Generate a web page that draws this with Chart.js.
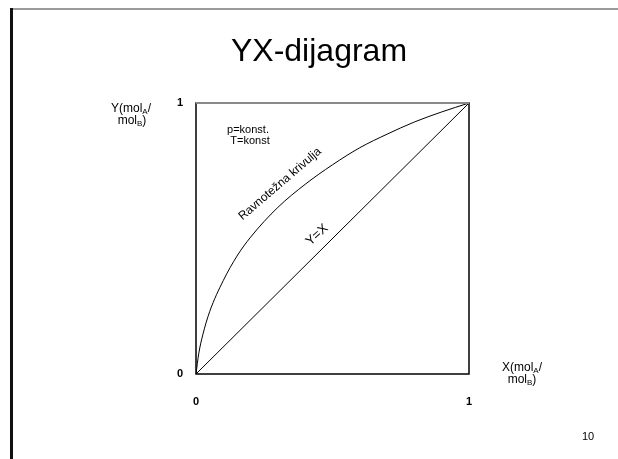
<!DOCTYPE html>
<html>
<head>
<meta charset="utf-8">
<title>YX-dijagram</title>
<script src="https://cdn.jsdelivr.net/npm/chart.js@4"></script>
<style>
  html, body { margin: 0; padding: 0; background: #fff; }
  #wrap { width: 618px; height: 459px; }
</style>
</head>
<body>
<div id="wrap"><canvas id="yx"></canvas></div>
<script>
// equilibrium curve (mole ratios, liquid X vs vapour Y)
const curveX = [0, 0.010, 0.025, 0.050, 0.100, 0.150, 0.200, 0.300, 0.400, 0.500, 0.600, 0.700, 0.800, 0.900, 1];
const curveY = [0, 0.075, 0.145, 0.230, 0.345, 0.435, 0.505, 0.615, 0.700, 0.772, 0.835, 0.885, 0.930, 0.967, 1];
// Y = X diagonal
const diagX = [0, 1];
const diagY = [0, 1];
const xTicks = [0, 1];
const yTicks = [0, 1];

const FONT = '"Liberation Sans", Arial, Helvetica, sans-serif';

function pts(xs, ys) {
  return xs.map((x, i) => ({ x: x, y: ys[i] }));
}

// draw a run of text pieces (normal + subscript) centred on cx
function drawRun(c, parts, cx, y) {
  let w = 0;
  parts.forEach(p => { c.font = p[1] + 'px ' + FONT; w += c.measureText(p[0]).width; });
  let x = cx - w / 2;
  parts.forEach(p => {
    c.font = p[1] + 'px ' + FONT;
    c.fillText(p[0], x, y + (p[2] || 0));
    x += c.measureText(p[0]).width;
  });
}

function drawRotated(c, text, size, cx, cy, deg) {
  c.save();
  c.translate(cx, cy);
  c.rotate(deg * Math.PI / 180);
  c.font = size + 'px ' + FONT;
  c.textAlign = 'center';
  c.textBaseline = 'middle';
  c.fillText(text, 0, 0);
  c.restore();
}

// slide frame, title, box and notes
const slideText = {
  id: 'slideText',
  beforeDraw(chart) {
    const c = chart.ctx;
    c.save();
    c.fillStyle = '#fff';
    c.fillRect(0, 0, chart.width, chart.height);
    c.fillStyle = '#9a9a9a';
    c.fillRect(10, 8, chart.width - 10, 2);
    c.fillStyle = '#111';
    c.fillRect(10, 8, 3, chart.height - 8);
    c.restore();
  },
  afterDraw(chart) {
    const c = chart.ctx, a = chart.chartArea;
    c.save();
    // plot box
    c.strokeStyle = '#000';
    c.lineWidth = 1.5;
    c.strokeRect(a.left, a.top, a.right - a.left, a.bottom - a.top);
    c.strokeStyle = '#8a8a8a';
    c.lineWidth = 2;
    c.beginPath();
    c.moveTo(a.left, a.top);
    c.lineTo(a.right, a.top);
    c.stroke();

    c.fillStyle = '#000';
    c.textBaseline = 'alphabetic';
    c.textAlign = 'left';

    // title
    drawRun(c, [['YX-dijagram', 32]], 319, 61);

    // axis names
    drawRun(c, [['Y(mol', 12], ['A', 8, 2], ['/', 12]], 131, 112);
    drawRun(c, [['mol', 12], ['B', 8, 2], [')', 12]], 132, 124);
    drawRun(c, [['X(mol', 12], ['A', 8, 2], ['/', 12]], 522, 371);
    drawRun(c, [['mol', 12], ['B', 8, 2], [')', 12]], 522, 383);

    // conditions
    drawRun(c, [['p=konst.', 11]], 248, 133);
    drawRun(c, [['T=konst', 11]], 250, 144);

    // curve labels
    drawRotated(c, 'Ravnotežna krivulja', 12, 280, 184, -40.6);
    drawRotated(c, 'Y=X', 13, 317, 235, -42);

    // page number
    drawRun(c, [['10', 11]], 588, 440);
    c.restore();
  }
};

new Chart(document.getElementById('yx'), {
  type: 'scatter',
  data: {
    datasets: [
      {
        label: 'Ravnotežna krivulja',
        data: pts(curveX, curveY),
        showLine: true,
        borderColor: '#000',
        borderWidth: 1,
        pointRadius: 0,
        cubicInterpolationMode: 'monotone'
      },
      {
        label: 'Y=X',
        data: pts(diagX, diagY),
        showLine: true,
        borderColor: '#000',
        borderWidth: 1,
        pointRadius: 0
      }
    ]
  },
  options: {
    responsive: true,
    maintainAspectRatio: false,
    animation: false,
    layout: { padding: { left: 0, right: 149, top: 103, bottom: 0 } },
    plugins: {
      legend: { display: false },
      tooltip: { enabled: false },
      title: { display: false }
    },
    scales: {
      x: {
        type: 'linear',
        min: 0,
        max: 1,
        grid: { display: false, drawTicks: false },
        border: { display: false },
        afterBuildTicks: s => { s.ticks = xTicks.map(v => ({ value: v })); },
        afterFit: s => { s.height = 85; },
        ticks: { padding: 21, color: '#000', font: { family: FONT, size: 11, weight: 'bold' } }
      },
      y: {
        type: 'linear',
        min: 0,
        max: 1,
        grid: { display: false, drawTicks: false },
        border: { display: false },
        afterBuildTicks: s => { s.ticks = yTicks.map(v => ({ value: v })); },
        afterFit: s => { s.width = 196; },
        ticks: { padding: 13, color: '#000', font: { family: FONT, size: 11, weight: 'bold' } }
      }
    }
  },
  plugins: [slideText]
});
</script>
</body>
</html>
